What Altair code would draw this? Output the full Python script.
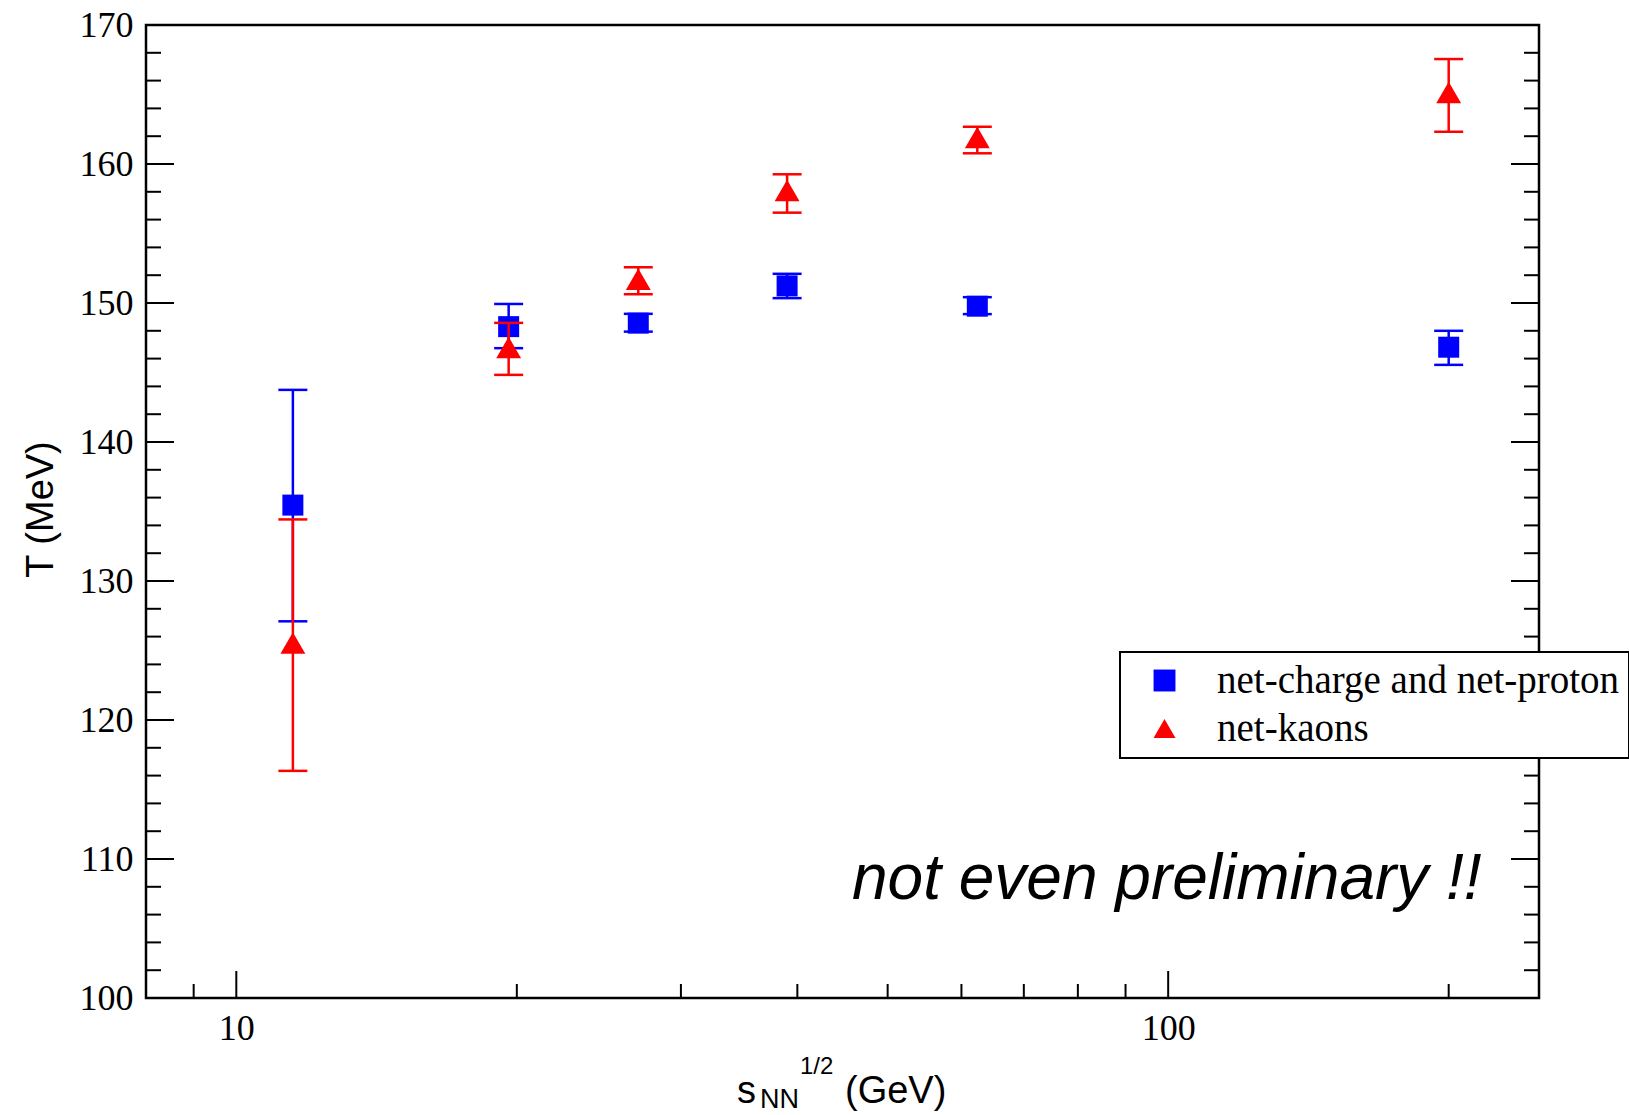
import altair as alt
import pandas as pd

# ---- data ----
energies = [11.5, 19.6, 27, 39, 62.4, 200]

series_names = ["net-charge and net-proton", "net-kaons"]
series_colors = ["#0000ff", "#ff0000"]
series_shapes = ["square", "triangle-up"]

charge_T = [135.46, 148.3, 148.55, 151.23, 149.77, 146.82]
charge_lo = [127.1, 146.75, 147.94, 150.35, 149.2, 145.55]
charge_hi = [143.75, 149.93, 149.22, 152.1, 150.42, 148.0]

kaon_T = [125.54, 146.8, 151.71, 158.1, 161.9, 165.15]
kaon_lo = [116.34, 144.83, 150.63, 156.5, 160.77, 162.32]
kaon_hi = [134.43, 148.57, 152.57, 159.26, 162.68, 167.55]

x_major = [10, 100]
x_minor = [9, 20, 30, 40, 50, 60, 70, 80, 90, 200]
y_major = [100, 110, 120, 130, 140, 150, 160, 170]
y_minor = [v for v in range(102, 170, 2) if v % 10 != 0]

annotation = "not even preliminary !!"

# ---- layout ----
W, H = 1393, 973
PAD = {"left": 146, "top": 25, "right": 1629 - 146 - W, "bottom": 1115 - 25 - H}

rows = []
for name, T, lo, hi in [
    (series_names[0], charge_T, charge_lo, charge_hi),
    (series_names[1], kaon_T, kaon_lo, kaon_hi),
]:
    for e, t, l, h in zip(energies, T, lo, hi):
        rows.append({"series": name, "energy": e, "T": t, "lo": l, "hi": h})
df = pd.DataFrame(rows)

xs = alt.Scale(type="log", domain=[8, 250], nice=False)
ys = alt.Scale(domain=[100, 170], nice=False, zero=False)

xaxis = alt.Axis(
    values=x_major, ticks=False, tickSize=0, domain=False, grid=False,
    labelFont="Liberation Serif", labelFontSize=36, labelColor="black",
    labelPadding=13, labelFlush=False, title=None,
)
yaxis = alt.Axis(
    values=y_major, ticks=False, tickSize=0, domain=False, grid=False,
    labelFont="Liberation Serif", labelFontSize=36, labelColor="black",
    labelPadding=13, labelFlush=False,
    title="T (MeV)", titleFont="Liberation Sans", titleFontSize=38,
    titleFontWeight="normal", titleColor="black", titleAngle=270,
    titleAlign="center", titleBaseline="alphabetic", titleX=-94, titleY=484,
)

legend = alt.Legend(
    title=None, orient="none", legendX=974, legendY=627,
    fillColor="white", strokeColor="black", padding=9,
    labelFont="Liberation Serif", labelFontSize=39, labelColor="black",
    labelLimit=800,
    symbolSize=480, symbolStrokeWidth=0, symbolOffset=16, labelOffset=33,
    rowPadding=8, zindex=1,
)

color_scale = alt.Scale(domain=series_names, range=series_colors)
shape_scale = alt.Scale(domain=series_names, range=series_shapes)
marker_sizes = [441, 620]

base = alt.Chart(df)
layers = []

# axis tick marks (inward), drawn through the scales
xmaj = alt.Chart(pd.DataFrame({"v": x_major})).mark_rule(color="black", strokeWidth=2).encode(
    x=alt.X("v:Q", scale=xs, axis=xaxis), y=alt.value(H), y2=alt.value(H - 27))
xmin = alt.Chart(pd.DataFrame({"v": x_minor})).mark_rule(color="black", strokeWidth=2).encode(
    x=alt.X("v:Q", scale=xs, axis=xaxis), y=alt.value(H), y2=alt.value(H - 14))
layers += [xmaj, xmin]
for v_list, length in [(y_major, 28), (y_minor, 15)]:
    d = pd.DataFrame({"v": v_list})
    layers.append(alt.Chart(d).mark_rule(color="black", strokeWidth=2).encode(
        y=alt.Y("v:Q", scale=ys, axis=yaxis), x=alt.value(0), x2=alt.value(length)))
    layers.append(alt.Chart(d).mark_rule(color="black", strokeWidth=2).encode(
        y=alt.Y("v:Q", scale=ys, axis=yaxis), x=alt.value(W), x2=alt.value(W - length)))

# data series: error bars + caps + markers
for name, col, msize in zip(series_names, series_colors, marker_sizes):
    sel = base.transform_filter(alt.datum.series == name)
    bar = sel.mark_rule(color=col, strokeWidth=2.5).encode(
        x=alt.X("energy:Q", scale=xs, axis=xaxis),
        y=alt.Y("lo:Q", scale=ys, axis=yaxis), y2="hi:Q")
    cap_lo = sel.mark_tick(color=col, orient="horizontal", size=29, thickness=2.5, opacity=1).encode(
        x=alt.X("energy:Q", scale=xs, axis=xaxis),
        y=alt.Y("lo:Q", scale=ys, axis=yaxis))
    cap_hi = sel.mark_tick(color=col, orient="horizontal", size=29, thickness=2.5, opacity=1).encode(
        x=alt.X("energy:Q", scale=xs, axis=xaxis),
        y=alt.Y("hi:Q", scale=ys, axis=yaxis))
    pts = sel.mark_point(filled=True, opacity=1, strokeWidth=0, size=msize).encode(
        x=alt.X("energy:Q", scale=xs, axis=xaxis),
        y=alt.Y("T:Q", scale=ys, axis=yaxis),
        color=alt.Color("series:N", scale=color_scale, legend=legend),
        shape=alt.Shape("series:N", scale=shape_scale, legend=legend),
    )
    layers += [bar, cap_lo, cap_hi, pts]

# x-axis title built from pieces (sub/superscripts)
one = alt.Data(values=[{"k": 1}])
title_parts = [
    ("s", 591, H + 105, 38),
    ("NN", 614, H + 110, 27),
    ("1/2", 654, H + 76, 24),
    ("(GeV)", 699, H + 105, 38),
]
for txt, px, py, fs in title_parts:
    layers.append(alt.Chart(one).mark_text(
        text=txt, font="Liberation Sans", fontSize=fs, color="black",
        align="left", baseline="alphabetic").encode(x=alt.value(px), y=alt.value(py)))

# annotation
layers.append(alt.Chart(one).mark_text(
    text=annotation, font="Liberation Sans", fontSize=64, fontStyle="italic",
    color="black", align="left", baseline="alphabetic").encode(
    x=alt.value(706), y=alt.value(874)))

chart = alt.layer(*layers).properties(
    width=W, height=H,
    autosize=alt.AutoSizeParams(type="none"),
    padding=PAD,
    background="white",
).configure_view(stroke="black", strokeWidth=2.5).configure_legend(strokeWidth=2)

chart.save("out.html", embed_options={"renderer": "svg", "actions": False})
